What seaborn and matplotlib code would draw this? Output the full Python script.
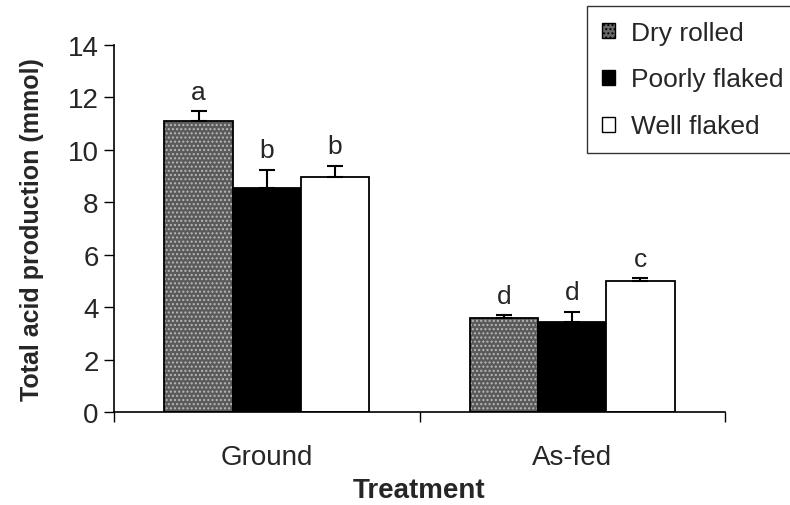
import numpy as np
import pandas as pd
import matplotlib
matplotlib.use("Agg")
import matplotlib.pyplot as plt
import seaborn as sns
from matplotlib.patches import Patch, Rectangle

# ---- data ----
treatments = ["Ground", "As-fed"]
processing = ["Dry rolled", "Poorly flaked", "Well flaked"]
dry_rolled = [11.1, 3.6]
poorly_flaked = [8.55, 3.43]
well_flaked = [8.97, 5.0]
dry_rolled_err = [0.36, 0.09]
poorly_flaked_err = [0.69, 0.38]
well_flaked_err = [0.42, 0.10]
dry_rolled_letters = ["a", "d"]
poorly_flaked_letters = ["b", "d"]
well_flaked_letters = ["b", "c"]
yticks = [0, 2, 4, 6, 8, 10, 12, 14]

values = [dry_rolled, poorly_flaked, well_flaked]
errors = [dry_rolled_err, poorly_flaked_err, well_flaked_err]
letters = [dry_rolled_letters, poorly_flaked_letters, well_flaked_letters]

rows = []
for p, vals in zip(processing, values):
    for t, v in zip(treatments, vals):
        rows.append({"Treatment": t, "Processing": p, "Value": v})
df = pd.DataFrame(rows)

sns.set_style("ticks")
plt.rcParams["font.family"] = ["Liberation Sans", "DejaVu Sans"]
plt.rcParams["hatch.linewidth"] = 1.0

colors = {"Dry rolled": "#5a5a5a", "Poorly flaked": "#000000", "Well flaked": "#ffffff"}

fig = plt.figure(figsize=(7.9, 5.06), dpi=100)
W, H = 790, 506
ax = fig.add_axes([114 / W, (H - 413.3) / H, (725 - 114) / W, (413.3 - 45.7) / H])

sns.barplot(data=df, x="Treatment", y="Value", hue="Processing",
            order=treatments, hue_order=processing, palette=colors,
            width=0.67, errorbar=None, edgecolor="black", linewidth=1.3,
            saturation=1, legend=False, ax=ax)

# speckled texture for dry rolled bars
for bar in ax.containers[0]:
    bar.set_hatch("....")
    bar.set_edgecolor("#b8b8b8")
    bar.set_linewidth(0)
    ax.add_patch(Rectangle(bar.get_xy(), bar.get_width(), bar.get_height(),
                           fill=False, edgecolor="black", linewidth=1.3, zorder=bar.get_zorder() + 0.1))

# error bars + letters
for cont, errs, lets in zip(ax.containers, errors, letters):
    xs = [b.get_x() + b.get_width() / 2 for b in cont]
    ys = [b.get_height() for b in cont]
    ax.errorbar(xs, ys, yerr=[[0] * len(errs), errs], fmt="none", ecolor="black",
                elinewidth=1.5, capsize=6, capthick=1.5, zorder=5)
    for x, y, e, l in zip(xs, ys, errs, lets):
        ax.text(x, y + e + 0.3, l, ha="center", va="bottom", fontsize=19)

ax.set_ylim(0, 14)
ax.set_yticks(yticks)
ax.set_xlim(-0.5, 1.5)
ax.set_xticks([-0.5, 0.5, 1.5])
ax.set_xticklabels(["", "", ""])
ax.set_xticks([0, 1], minor=True)
ax.set_xticklabels(treatments, minor=True)
ax.tick_params(axis="x", which="major", length=7, width=1, direction="out", color="black")
ax.tick_params(axis="x", which="minor", length=0, pad=23, labelsize=20)
ax.tick_params(axis="y", length=7, width=1, direction="out", labelsize=20, pad=4, color="black")

for s in ["top", "right"]:
    ax.spines[s].set_visible(False)
for s in ["left", "bottom"]:
    ax.spines[s].set_color("black")
    ax.spines[s].set_linewidth(1.2)

ax.set_xlabel("Treatment", fontsize=20, fontweight="bold", labelpad=5)
ax.set_ylabel("Total acid production (mmol)", fontsize=18, fontweight="bold", labelpad=17)

handles = [Patch(facecolor="#6a6a6a", edgecolor="black", hatch="....", linewidth=1),
           Patch(facecolor="#000000", edgecolor="black", linewidth=1),
           Patch(facecolor="#ffffff", edgecolor="black", linewidth=1)]
leg = fig.legend(handles, processing, loc="upper left",
                 bbox_to_anchor=(587 / W, 1 - 7 / H), bbox_transform=fig.transFigure,
                 borderaxespad=0, fontsize=19, frameon=True, fancybox=False,
                 edgecolor="black", handlelength=0.5, handleheight=0.5,
                 handletextpad=0.6, labelspacing=0.87, borderpad=0.55)
leg.get_frame().set_linewidth(1.0)

fig.savefig("out.png", dpi=100)
